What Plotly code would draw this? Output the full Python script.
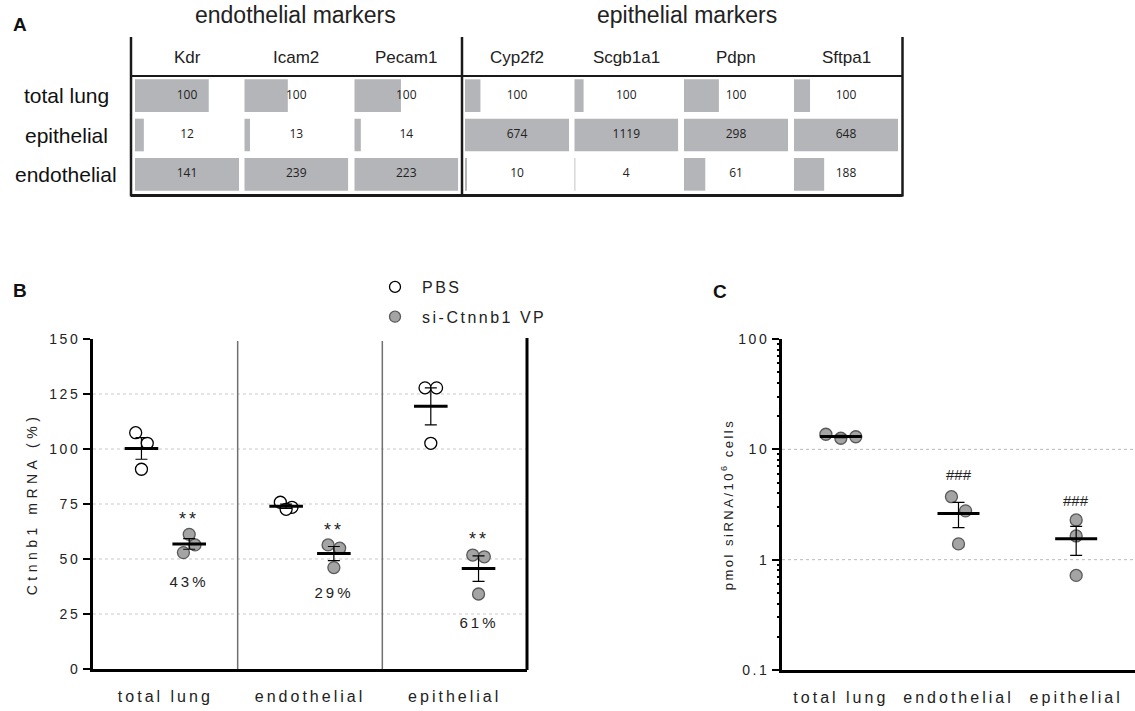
import numpy as np
import plotly.graph_objects as go

W, H = 1135, 711
def px(x): return x / W
def py(y): return 1 - y / H

# ---------------- Panel A data ----------------
table_rows = ["total lung", "epithelial", "endothelial"]
endo_markers = ["Kdr", "Icam2", "Pecam1"]
epi_markers = ["Cyp2f2", "Scgb1a1", "Pdpn", "Sftpa1"]
kdr = [100, 12, 141]
icam2 = [100, 13, 239]
pecam1 = [100, 14, 223]
cyp2f2 = [100, 674, 10]
scgb1a1 = [100, 1119, 4]
pdpn = [100, 298, 61]
sftpa1 = [100, 648, 188]

# ---------------- Panel B data ----------------
groups = ["total lung", "endothelial", "epithelial"]
pbs_total = [107.4, 102.6, 90.8]
pbs_endo = [75.8, 73.5, 72.6]
pbs_epi = [127.8, 127.8, 102.6]
si_total = [52.9, 56.4, 61.2]
si_endo = [56.4, 54.9, 46.1]
si_epi = [51.8, 51.0, 34.1]
stars_b = ["**", "**", "**"]
stars_b_y = [68, 63.2, 59.2]
knockdown = ["43%", "29%", "61%"]
knockdown_y = [40, 35, 21.2]

# ---------------- Panel C data ----------------
c_total = [13.7, 13.0, 12.6]
c_endo = [3.72, 2.77, 1.39]
c_epi = [2.29, 1.64, 0.72]
hash_c = ["", "###", "###"]
hash_c_y = [None, 5.97, 3.47]

FONT = "Liberation Sans"
TXT = "#222222"
GRAY_FILL = "#a4a4a4"
GRAY_LINE = "#595959"
BAR = "#b4b5b8"

fig = go.Figure()
shapes = []
ann = []
spaced_ann = []  # annotation indices that get letter spacing

def add_ann(spaced=False, **kw):
    kw.setdefault("xanchor", "center")
    kw.setdefault("yanchor", "middle")
    kw.setdefault("showarrow", False)
    ann.append(kw)
    if spaced:
        spaced_ann.append(len(ann) - 1)

# ================= Panel A (table) =================
cols = list(zip(endo_markers + epi_markers,
                [kdr, icam2, pecam1, cyp2f2, scgb1a1, pdpn, sftpa1]))
col_left = [135, 244.3, 354.3, 465, 574.3, 684, 794]
col_w = 104
for k, (name, vals) in enumerate(cols):
    ax = k + 3
    vmax = max(vals)
    fig.add_trace(go.Bar(x=vals, y=table_rows, orientation="h",
                         marker=dict(color=BAR, line=dict(width=0)),
                         xaxis=f"x{ax}", yaxis="y3", showlegend=False,
                         hoverinfo="skip"))
    fig.add_trace(go.Scatter(x=[vmax / 2] * len(vals), y=table_rows, mode="text",
                             text=[str(v) for v in vals],
                             textfont=dict(family="Open Sans", size=12, color=TXT),
                             xaxis=f"x{ax}", yaxis="y3", showlegend=False,
                             hoverinfo="skip"))
    fig.layout[f"xaxis{ax}"] = dict(domain=[px(col_left[k]), px(col_left[k] + col_w)],
                                    range=[0, vmax], visible=False, anchor="y3",
                                    fixedrange=True, automargin=False)
    add_ann(text=name, xref=f"x{ax} domain", x=0.5, yref="paper", y=py(57),
            font=dict(family=FONT, size=17, color=TXT))

fig.layout["yaxis3"] = dict(domain=[py(194), py(76)], type="category",
                            categoryorder="array", categoryarray=table_rows,
                            autorange="reversed", visible=False, anchor="x3",
                            automargin=False)
for r in table_rows:
    add_ann(text=r, xref="paper", x=px(66), yref="y3", y=r,
            font=dict(family=FONT, size=21, color="#111"))
add_ann(text="endothelial markers", xref="paper", x=px(295), yref="paper", y=py(15),
        font=dict(family=FONT, size=23, color=TXT))
add_ann(text="epithelial markers", xref="paper", x=px(687), yref="paper", y=py(15),
        font=dict(family=FONT, size=23, color=TXT))
LC = "#1a1a1a"
for xv in [131, 462, 902.5]:
    shapes.append(dict(type="line", xref="paper", yref="paper", x0=px(xv), x1=px(xv),
                       y0=py(37), y1=py(196.5), line=dict(color=LC, width=2.5)))
shapes.append(dict(type="line", xref="paper", yref="paper", x0=px(131), x1=px(902.5),
                   y0=py(76), y1=py(76), line=dict(color=LC, width=2)))
shapes.append(dict(type="line", xref="paper", yref="paper", x0=px(131), x1=px(902.5),
                   y0=py(195.5), y1=py(195.5), line=dict(color=LC, width=3)))

# ================= Panel B =================
off = 0.165
jit = np.array([-0.04, 0.04, 0.0])
pbs_sets = [pbs_total, pbs_endo, pbs_epi]
si_sets = [si_total, si_endo, si_epi]
for gi in range(3):
    for sets, sgn, fill, lcol in [(pbs_sets, -1, "white", "black"),
                                  (si_sets, 1, GRAY_FILL, GRAY_LINE)]:
        vals = np.array(sets[gi])
        xc = gi + 1 + sgn * off
        fig.add_trace(go.Scatter(x=xc + jit, y=vals, mode="markers",
                                 marker=dict(symbol="circle", size=12, color=fill,
                                             line=dict(color=lcol, width=1.3)),
                                 xaxis="x", yaxis="y", showlegend=False, hoverinfo="skip"))
        m = vals.mean()
        sem = vals.std(ddof=1) / np.sqrt(len(vals))
        fig.add_trace(go.Scatter(x=[xc], y=[m], mode="markers",
                                 marker=dict(symbol="line-ew-open", size=24, color="black",
                                             line=dict(color="black", width=3)),
                                 error_y=dict(type="data", array=[sem], color="black",
                                              thickness=1.2, width=6),
                                 xaxis="x", yaxis="y", showlegend=False, hoverinfo="skip"))
    add_ann(text=stars_b[gi], x=gi + 1 + off, y=stars_b_y[gi], xref="x", yref="y",
            font=dict(family=FONT, size=18, color=TXT), spaced=True)
    add_ann(text=knockdown[gi], x=gi + 1 + off, y=knockdown_y[gi], xref="x", yref="y",
            font=dict(family=FONT, size=15, color=TXT), spaced=True)

# legend entries
fig.add_trace(go.Scatter(x=[None], y=[None], mode="markers", name="PBS", legendgroup="a",
                         marker=dict(symbol="circle", size=11, color="white",
                                     line=dict(color="black", width=1.3)),
                         xaxis="x", yaxis="y"))
fig.add_trace(go.Scatter(x=[None], y=[None], mode="markers", name="si-Ctnnb1 VP",
                         legendgroup="b",
                         marker=dict(symbol="circle", size=11, color=GRAY_FILL,
                                     line=dict(color=GRAY_LINE, width=1.3)),
                         xaxis="x", yaxis="y"))

fig.layout["xaxis"] = dict(domain=[px(93), px(527)], range=[0.5, 3.5], anchor="y",
                           tickvals=[1, 2, 3], ticktext=groups, ticks="",
                           showline=True, linecolor="black", linewidth=3,
                           showgrid=False, zeroline=False, ticklabelstandoff=11,
                           tickfont=dict(family=FONT, size=16, color=TXT), fixedrange=True,
                           automargin=False)
fig.layout["yaxis"] = dict(domain=[py(669), py(339)], range=[0, 150], anchor="x",
                           tickvals=[0, 25, 50, 75, 100, 125, 150], ticks="outside",
                           ticklen=7, tickwidth=2, tickcolor="black",
                           showline=True, linecolor="black", linewidth=3,
                           showgrid=False, zeroline=False,
                           tickfont=dict(family=FONT, size=14, color=TXT),
                           title=dict(text="Ctnnb1 mRNA (%)", standoff=16,
                                      font=dict(family=FONT, size=14, color=TXT)),
                           fixedrange=True, automargin=False)
for gv in [25, 50, 75, 100, 125]:
    shapes.append(dict(type="line", xref="x domain", yref="y", x0=0, x1=1, y0=gv, y1=gv,
                       line=dict(color="#c9c9c9", width=1, dash="dot"), layer="below"))
for sv in [1.5, 2.5]:
    shapes.append(dict(type="line", xref="x", yref="paper", x0=sv, x1=sv,
                       y0=py(669), y1=py(341), line=dict(color="#707070", width=1.5)))
shapes.append(dict(type="line", xref="x domain", yref="paper", x0=1, x1=1,
                   y0=py(670), y1=py(338), line=dict(color="black", width=3)))

# ================= Panel C =================
c_sets = [c_total, c_endo, c_epi]
c_jit = [[-0.127, 0.127, 0.0], [-0.06, 0.06, 0.0], [0.0, 0.0, 0.0]]
for gi in range(3):
    vals = np.array(c_sets[gi])
    xc = gi + 1
    fig.add_trace(go.Scatter(x=xc + np.array(c_jit[gi]), y=vals, mode="markers",
                             marker=dict(symbol="circle", size=12, color=GRAY_FILL,
                                         line=dict(color=GRAY_LINE, width=1.3)),
                             xaxis="x2", yaxis="y2", showlegend=False, hoverinfo="skip"))
    m = vals.mean()
    sem = vals.std(ddof=1) / np.sqrt(len(vals))
    fig.add_trace(go.Scatter(x=[xc], y=[m], mode="markers",
                             marker=dict(symbol="line-ew-open", size=30, color="black",
                                         line=dict(color="black", width=3)),
                             error_y=dict(type="data", array=[sem], color="black",
                                          thickness=1.2, width=6),
                             xaxis="x2", yaxis="y2", showlegend=False, hoverinfo="skip"))
    if hash_c_y[gi] is not None:
        add_ann(text=hash_c[gi], x=xc, y=np.log10(hash_c_y[gi]), xref="x2", yref="y2",
                font=dict(family=FONT, size=15, color=TXT))

fig.layout["xaxis2"] = dict(domain=[px(782), 1.0], range=[0.5, 3.5], anchor="y2",
                            tickvals=[1, 2, 3], ticktext=groups, ticks="",
                            showline=True, linecolor="black", linewidth=3,
                            showgrid=False, zeroline=False, ticklabelstandoff=11,
                            tickfont=dict(family=FONT, size=16, color=TXT), fixedrange=True,
                            automargin=False)
fig.layout["yaxis2"] = dict(domain=[py(670), py(339)], type="log", range=[-1, 2],
                            anchor="x2", dtick=1, ticks="outside", ticklen=7, tickwidth=2,
                            tickcolor="black", showline=True, linecolor="black", linewidth=3,
                            showgrid=False, zeroline=False,
                            tickfont=dict(family=FONT, size=14, color=TXT),
                            title=dict(text="pmol siRNA/10<sup>6</sup> cells", standoff=10,
                                       font=dict(family=FONT, size=13, color=TXT)),
                            fixedrange=True, automargin=False)
# minor log ticks via an overlaying axis
minor_vals = [m * 10.0 ** e for e in (-1, 0, 1) for m in range(2, 10)]
fig.add_trace(go.Scatter(x=[None], y=[None], xaxis="x2", yaxis="y4", showlegend=False,
                         hoverinfo="skip"))
fig.layout["yaxis4"] = dict(overlaying="y2", anchor="x2", side="left", type="log",
                            range=[-1, 2], tickmode="array", tickvals=minor_vals,
                            showticklabels=False, ticks="outside", ticklen=4, tickwidth=1.5,
                            tickcolor="black", showline=False, showgrid=False,
                            zeroline=False, fixedrange=True, automargin=False)
for gv in [1, 10]:
    shapes.append(dict(type="line", xref="x2 domain", yref="y2", x0=0, x1=1, y0=gv, y1=gv,
                       line=dict(color="#b9b9b9", width=1, dash="dot"), layer="below"))

# ================= Panel letters =================
for letter, x, y in [("A", 20, 25), ("B", 20, 290), ("C", 720, 291)]:
    add_ann(text=f"<b>{letter}</b>", xref="paper", yref="paper", x=px(x), y=py(y),
            font=dict(family=FONT, size=19, color="#111"))

fig.update_layout(
    width=W, height=H, margin=dict(l=0, r=0, t=0, b=0, pad=0, autoexpand=False),
    paper_bgcolor="white", plot_bgcolor="white",
    bargap=0.17, shapes=shapes, annotations=ann,
    showlegend=True,
    legend=dict(x=px(368), y=py(270), xanchor="left", yanchor="top",
                font=dict(family=FONT, size=16, color=TXT), tracegroupgap=6,
                bgcolor="rgba(0,0,0,0)", itemwidth=44),
)

# letter spacing for the tracked Prism-style labels (text stays real SVG text)
css = [
    ".xtick text, .x2tick text {letter-spacing: 3px;}",
    ".ytick text, .y2tick text {letter-spacing: 2.5px;}",
    "text.ytitle {letter-spacing: 4.5px;}",
    "text.y2title {letter-spacing: 2.5px;}",
    "text.legendtext {letter-spacing: 2.5px;}",
    ".legend .scrollbox {clip-path: none !important;}",
]
css += ['.annotation[data-index="%d"] text {letter-spacing: 3px;}' % i for i in spaced_ann]
post = ("var s=document.createElement('style');s.innerHTML=%r;document.head.appendChild(s);"
        % " ".join(css))

fig.write_html("out.html", post_script=post)
